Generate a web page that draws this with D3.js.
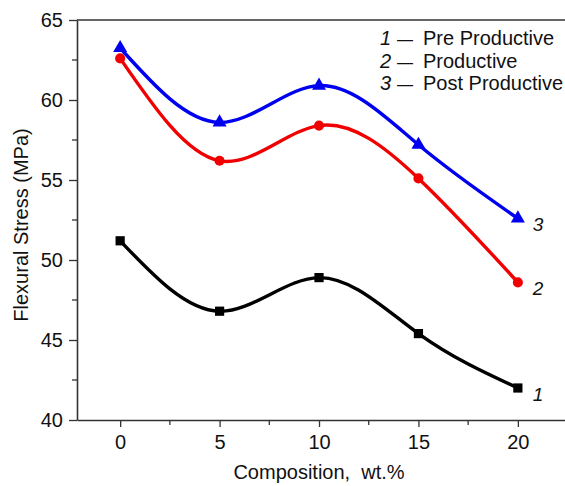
<!DOCTYPE html>
<html>
<head>
<meta charset="utf-8" />
<style>
body { margin: 0; background: #fff; }
#chart { width: 565px; height: 486px; }
text { font-family: "Liberation Sans", Arial, sans-serif; }
</style>
</head>
<body>
<div id="chart"></div>
<script src="https://d3js.org/d3.v7.min.js"></script>
<script>

var composition = [0, 5, 10, 15, 20];
var preProductive = [51.2, 46.8, 48.9, 45.4, 42.0];
var productive = [62.6, 56.2, 58.4, 55.1, 48.6];
var postProductive = [63.25, 58.6, 60.9, 57.2, 52.6];
var xTicks = [0, 5, 10, 15, 20];
var yTicks = [40, 45, 50, 55, 60, 65];
var legendNames = ["Pre Productive", "Productive", "Post Productive"];

var width = 565, height = 486;
var margin = {top: 20, right: 0, bottom: 66, left: 77};

var svg = d3.select("#chart").append("svg")
    .attr("width", width)
    .attr("height", height);

var x = d3.scaleLinear().domain([-2.17, 22.37]).range([margin.left, width]);
var y = d3.scaleLinear().domain([40, 65]).range([height - margin.bottom, margin.top]);

// minor ticks
var xMinor = d3.range(-2.5, 22.6, 2.5).filter(function(d) { return x(d) >= margin.left && xTicks.indexOf(d) < 0; });
var yMinor = d3.range(42.5, 65, 5);

var axisColor = "#333";
var fontStack = "'Liberation Sans', Arial, sans-serif";

// x axis
var gx = svg.append("g").attr("transform", "translate(0," + y(40) + ")");
gx.call(d3.axisBottom(x).tickValues(xTicks).tickSize(7).tickPadding(8).tickSizeOuter(0));
gx.selectAll(".minor").data(xMinor).enter().append("line")
    .attr("x1", function(d) { return x(d); }).attr("x2", function(d) { return x(d); })
    .attr("y1", 0).attr("y2", 5).attr("stroke", axisColor).attr("stroke-width", 1.3);

// y axis
var gy = svg.append("g").attr("transform", "translate(" + margin.left + ",0)");
gy.call(d3.axisLeft(y).tickValues(yTicks).tickSize(8).tickPadding(6).tickSizeOuter(0));
gy.selectAll(".minor").data(yMinor).enter().append("line")
    .attr("y1", function(d) { return y(d); }).attr("y2", function(d) { return y(d); })
    .attr("x1", 0).attr("x2", -5).attr("stroke", axisColor).attr("stroke-width", 1.3);

svg.selectAll(".domain").attr("stroke", axisColor).attr("stroke-width", 1.6);
svg.selectAll(".tick line").attr("stroke", axisColor).attr("stroke-width", 1.3);
svg.selectAll(".tick text").attr("font-size", 20).attr("fill", "#111")
    .style("font-family", fontStack);

// top frame line
svg.append("line")
    .attr("x1", margin.left).attr("x2", width)
    .attr("y1", y(65)).attr("y2", y(65))
    .attr("stroke", axisColor).attr("stroke-width", 1.6);

// axis titles
svg.append("text")
    .attr("x", x(10)).attr("y", 479)
    .attr("text-anchor", "middle").attr("font-size", 20).attr("fill", "#111")
    .attr("xml:space", "preserve")
    .text("Composition,  wt.%");

svg.append("text")
    .attr("transform", "translate(28,225) rotate(-90)")
    .attr("text-anchor", "middle").attr("font-size", 20).attr("fill", "#111")
    .text("Flexural Stress (MPa)");

var line = d3.line()
    .x(function(d) { return x(d[0]); })
    .y(function(d) { return y(d[1]); })
    .curve(d3.curveNatural);

var series = [
  {num: "1", values: preProductive, color: "#000", symbol: d3.symbolSquare, size: 85},
  {num: "2", values: productive, color: "#f00000", symbol: d3.symbolCircle, size: 80},
  {num: "3", values: postProductive, color: "#0000f0", symbol: d3.symbolTriangle, size: 85}
];

series.forEach(function(s) {
  var pts = composition.map(function(c, i) { return [c, s.values[i]]; });
  svg.append("path")
      .attr("d", line(pts))
      .attr("fill", "none")
      .attr("stroke", s.color)
      .attr("stroke-width", 3.4);
  svg.selectAll(null).data(pts).enter().append("path")
      .attr("d", d3.symbol().type(s.symbol).size(s.size))
      .attr("transform", function(d) { return "translate(" + x(d[0]) + "," + y(d[1]) + ")"; })
      .attr("fill", s.color);
  // end label
  var last = pts[pts.length - 1];
  svg.append("text")
      .attr("x", x(last[0]) + 15).attr("y", y(last[1]) + 13)
      .attr("font-size", 19).attr("font-style", "italic").attr("fill", "#111")
      .text(s.num);
});

// legend
var legend = svg.append("g");
legendNames.forEach(function(name, i) {
  var by = 45 + i * 22.5;
  legend.append("text")
      .attr("x", 380).attr("y", by)
      .attr("font-size", 20).attr("font-style", "italic").attr("fill", "#111")
      .text(series[i].num);
  legend.append("text")
      .attr("x", 397).attr("y", by)
      .attr("font-size", 16).attr("fill", "#111")
      .text("\u2014");
  legend.append("text")
      .attr("x", 423).attr("y", by)
      .attr("font-size", 20).attr("fill", "#111")
      .text(name);
});

</script>
</body>
</html>
